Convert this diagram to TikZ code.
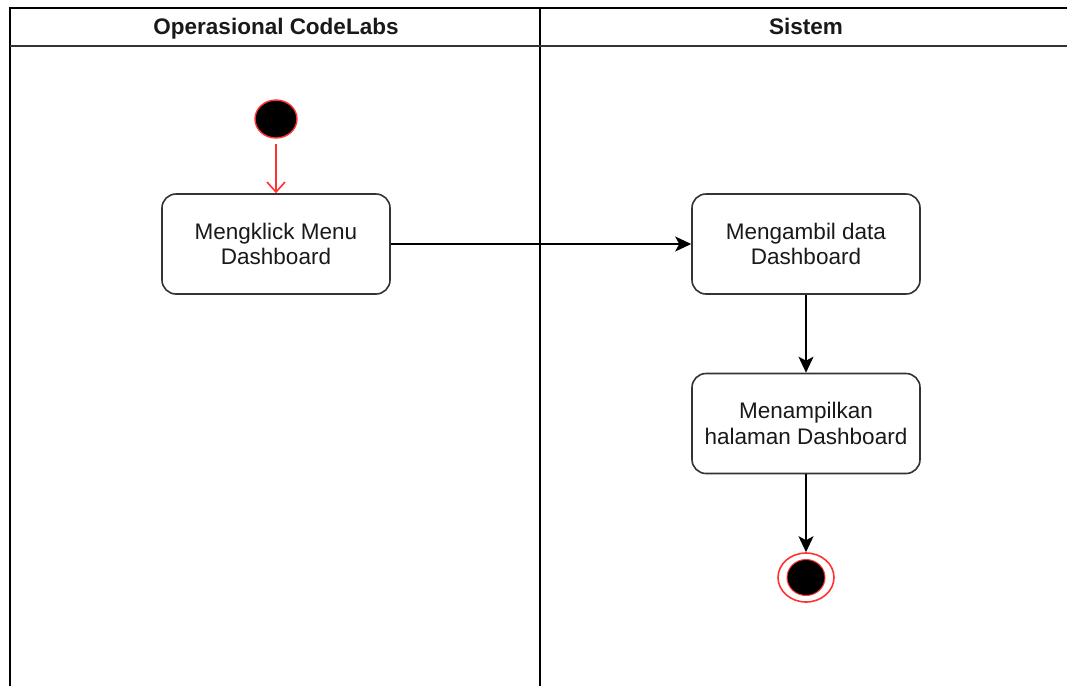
\documentclass[tikz,border=0pt]{standalone}
\usepackage{fontspec}
\setmainfont{Liberation Sans}
\usetikzlibrary{arrows.meta,shapes.geometric}
\definecolor{lineclr}{HTML}{333333}
\definecolor{redclr}{HTML}{FF3333}
\begin{document}
\begin{tikzpicture}[x=1pt,y=-1pt,
  lane/.style={line width=1.6pt, draw=black},
  header/.style={font=\fontsize{22.5}{26}\selectfont\bfseries, text=black!90,
    text height=16pt, text depth=4.5pt, inner sep=0pt},
  action/.style={draw=lineclr, line width=1.6pt, rounded corners=14pt, fill=white,
    minimum width=228pt, minimum height=100pt, align=center,
    font=\fontsize{22.5}{25.5}\selectfont, text=black!90},
  flow/.style={line width=1.8pt, draw=black, -{Stealth[length=16pt,width=15pt,inset=4pt]}},
  startflow/.style={line width=1.6pt, draw=redclr, -{Straight Barb[length=10pt,width=18pt,line width=1.6pt]}},
  startnode/.style={ellipse, fill=black, draw=redclr, line width=1.4pt,
    minimum width=42pt, minimum height=38pt, inner sep=0pt},
  endouter/.style={ellipse, fill=white, draw=redclr, line width=1.6pt,
    minimum width=56pt, minimum height=49pt, inner sep=0pt},
  endinner/.style={ellipse, fill=black, draw=redclr, line width=1pt,
    minimum width=38pt, minimum height=36pt, inner sep=0pt}]
  \useasboundingbox (0,0) rectangle (1067,686);
  \fill[white] (0,0) rectangle (1067,686);

  % swimlane frame
  \draw[lane] (10,686) -- (10,8) -- (1067,8);
  \draw[lane] (540,8) -- (540,686);
  \draw[line width=2.6pt, draw=black!80] (10,46) -- (1067,46);
  \node[header] (laneA) at (276,28.5) {Operasional CodeLabs};
  \node[header] (laneB) at (806,28.5) {Sistem};

  % nodes
  \node[startnode] (start) at (276,119) {};
  \node[action] (klik) at (276,244) {Mengklick Menu\\Dashboard};
  \node[action] (ambil) at (806,244) {Mengambil data\\Dashboard};
  \node[action] (tampil) at (806,423.5) {Menampilkan\\halaman Dashboard};
  \node[endouter] (finish) at (806,577.5) {};
  \node[endinner] (finishdot) at (finish.center) {};

  % connectors
  \draw[startflow] (start.south) ++(0,5) -- (klik.north);
  \draw[flow] (klik.east) -- (ambil.west);
  \draw[flow] (ambil.south) -- (tampil.north);
  \draw[flow] (tampil.south) -- (finish.north);
\end{tikzpicture}
\end{document}
